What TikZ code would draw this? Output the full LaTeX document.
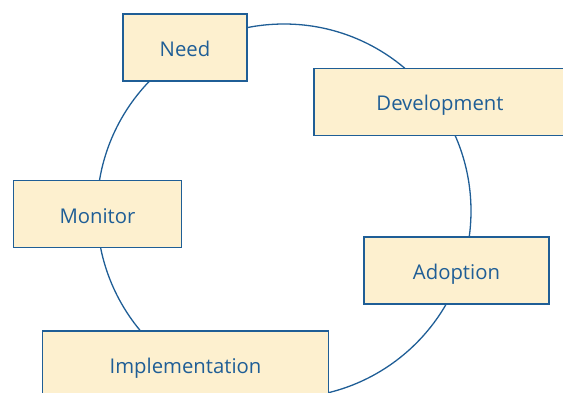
\documentclass[tikz,border=0pt]{standalone}
\usepackage{fontspec}
\setmainfont{Open Sans}
\definecolor{cblue}{HTML}{1F5E96}
\definecolor{cream}{HTML}{FDF0CF}
\begin{document}
\begin{tikzpicture}[x=1pt,y=-1pt,
  stagebox/.style={draw=cblue,fill=cream,line width=1.3pt,rectangle,inner sep=0pt,text=cblue,font=\fontsize{20.3}{24}\selectfont,text height=18pt,text depth=0pt},
  cycleline/.style={draw=cblue,line width=1.3pt}]
\useasboundingbox (0,0) rectangle (563,393);
\node[cycleline,circle,minimum size=374pt,inner sep=0pt] (cyc) at (284,211) {};
\node[stagebox,minimum width=124pt,minimum height=67pt] (need) at (185,47.5) {Need};
\node[stagebox,minimum width=252pt,minimum height=67pt] (dev) at (440,101.8) {Development};
\node[stagebox,minimum width=168.4pt,minimum height=67pt] (mon) at (97.5,214.2) {Monitor};
\node[stagebox,minimum width=185pt,minimum height=67pt] (adop) at (456.5,270.5) {Adoption};
\node[stagebox,minimum width=285.6pt,minimum height=67pt] (impl) at (185.5,364.5) {Implementation};
\end{tikzpicture}
\end{document}
